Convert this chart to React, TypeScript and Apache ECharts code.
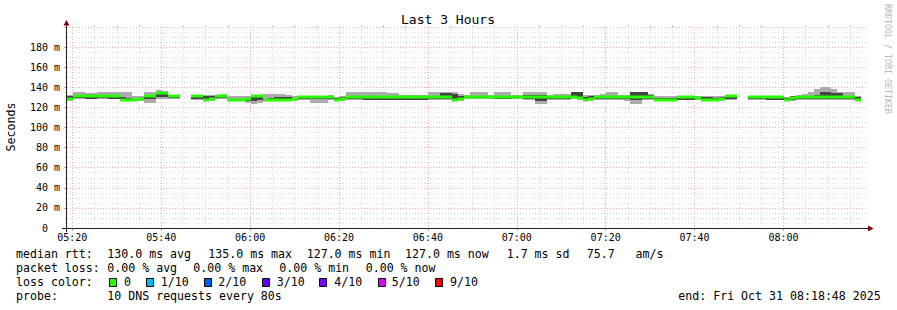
import React, { useEffect, useRef } from 'react';
import * as echarts from 'echarts';

// time axis in minutes after 05:00; window 05:18:48 .. 08:18:48, RRD step 80 s
const START_MIN = 18.8;
const END_MIN = 198.8;
const STEP_MIN = 80 / 60;

// median rtt (ms) per 80 s step, null = no data
const median: (number | null)[] = [
  128, 131, 131, 131, 131, 131, 131, 131, 131, 127,
  127, 127, 128, 131, 131, 134, 134, 131, 131, null,
  null, 131, 131, 127, 128, 131, 131, 127, 127, 127,
  128, 131, 131, 127, 127, 127, 127, 127, 128, 130,
  130, 130, 130, 130, 130, 127, 128, 130, 130, 130,
  130, 130, 130, 130, 130, 130, 130, 130, 130, 130,
  130, 130, 130, 130, 130, 127, 128, 130, 130, 130,
  130, 130, 130, 130, 130, 130, 130, 130, 130, 130,
  130, 130, 130, 130, 130, 130, 129, 127, 128, 130,
  130, 130, 130, 130, 130, 130, 130, 130, 130, 127,
  127, 127, 127, 130, 130, 130, 129, 127, 127, 127,
  128, 131, 131, null, null, 130, 130, 130, 130, 130,
  130, 127, 129, 130, 130, 130, 130, 130, 130, 130,
  130, 130, 130, 127, null,
];

// smoke: lowest ping, lower dense ping, upper dense ping, highest ping (ms)
const pingLo: (number | null)[] = [
  126, 128, 128, 128, 128, 128, 128, 128, 128, 126,
  126, 126, 126, 124, 124, 128, 128, 128, 128, null,
  null, 127, 127, 126, 126, 128, 128, 126, 126, 126,
  124, 123, 124, 126, 126, 126, 126, 126, 126, 127,
  127, 124, 124, 124, 127, 126, 126, 127, 127, 127,
  127, 127, 127, 127, 127, 127, 127, 127, 127, 127,
  127, 127, 127, 127, 127, 126, 126, 128, 128, 128,
  128, 128, 128, 128, 128, 128, 128, 127, 127, 123,
  123, 127, 127, 127, 127, 128, 127, 126, 126, 127,
  127, 127, 127, 127, 126, 123, 123, 127, 127, 126,
  126, 126, 126, 127, 127, 127, 127, 126, 126, 126,
  126, 127, 127, null, null, 127, 127, 127, 127, 127,
  127, 126, 126, 127, 127, 127, 127, 127, 127, 127,
  127, 127, 127, 126, null,
];
const pingQ1: (number | null)[] = [
  127, 129, 129, 128, 128, 129, 129, 128, 128, 127,
  127, 127, 127, 128, 128, 130, 130, 129, 129, null,
  null, 128, 128, 127, 127, 129, 129, 127, 127, 127,
  126, 126, 127, 127, 127, 127, 127, 127, 127, 128,
  128, 128, 128, 128, 128, 127, 127, 128, 128, 128,
  127, 127, 127, 127, 127, 127, 127, 127, 127, 127,
  127, 128, 128, 128, 128, 127, 127, 129, 129, 129,
  129, 129, 128, 128, 128, 129, 129, 128, 128, 126,
  126, 128, 128, 128, 128, 129, 128, 127, 127, 128,
  128, 128, 128, 128, 128, 127, 127, 128, 128, 127,
  127, 127, 127, 127, 127, 127, 128, 127, 127, 127,
  127, 128, 128, null, null, 128, 128, 128, 127, 127,
  127, 127, 127, 128, 128, 128, 128, 128, 128, 128,
  128, 128, 128, 127, null,
];
const pingQ3: (number | null)[] = [
  131, 132, 132, 132, 132, 131, 131, 131, 131, 130,
  129, 128, 129, 132, 132, 135, 135, 131, 131, null,
  null, 131, 131, 131, 131, 132, 132, 128, 128, 128,
  129, 131, 131, 128, 129, 130, 130, 130, 129, 130,
  130, 130, 130, 130, 130, 129, 130, 131, 131, 131,
  131, 131, 131, 131, 131, 131, 131, 131, 131, 131,
  131, 131, 131, 134, 134, 133, 131, 131, 131, 131,
  131, 131, 131, 131, 131, 131, 131, 132, 132, 132,
  132, 131, 131, 131, 131, 135, 135, 130, 131, 131,
  131, 131, 131, 131, 131, 135, 135, 135, 132, 129,
  129, 129, 129, 131, 131, 131, 130, 130, 130, 129,
  130, 132, 132, null, null, 131, 131, 131, 131, 131,
  131, 129, 131, 131, 131, 131, 132, 135, 135, 134,
  134, 131, 131, 130, null,
];
const pingHi: (number | null)[] = [
  132, 135, 135, 134, 134, 135, 135, 135, 135, 135,
  135, 131, 131, 135, 135, 137, 136, 132, 132, null,
  null, 132, 132, 132, 132, 132, 133, 131, 131, 131,
  131, 132, 132, 133, 133, 133, 133, 132, 131, 131,
  131, 131, 131, 131, 132, 130, 131, 135, 135, 135,
  135, 135, 135, 135, 134, 134, 132, 132, 132, 132,
  132, 135, 135, 135, 135, 135, 133, 132, 135, 135,
  135, 132, 135, 135, 135, 132, 132, 135, 135, 135,
  135, 132, 133, 133, 133, 135, 135, 132, 132, 132,
  133, 135, 135, 132, 132, 135, 135, 135, 133, 131,
  131, 131, 131, 131, 131, 131, 131, 131, 131, 131,
  131, 132, 132, null, null, 131, 131, 131, 131, 131,
  131, 130, 131, 132, 133, 135, 138, 140, 140, 138,
  135, 135, 135, 131, null,
];

const majorTicks = [20, 40, 60, 80, 100, 120, 140, 160, 180];
const majorLabels = ['05:20', '05:40', '06:00', '06:20', '06:40', '07:00', '07:20', '07:40', '08:00'];
const minorTicks = [
  25, 30, 35, 45, 50, 55, 65, 70, 75, 85, 90, 95, 105, 110, 115,
  125, 130, 135, 145, 150, 155, 165, 170, 175, 185, 190, 195,
];

const statsRtt = ['130.0 ms avg', '135.0 ms max', '127.0 ms min', '127.0 ms now', '1.7 ms sd', '75.7   am/s'];
const statsLoss = ['0.00 % avg', '0.00 % max', '0.00 % min', '0.00 % now'];
const lossLabels = ['0', '1/10', '2/10', '3/10', '4/10', '5/10', '9/10'];
const lossColors = ['#26ff00', '#00b8ff', '#0059ff', '#5e00ff', '#7e00ff', '#dd00ff', '#ff0000'];
const probeText = '10 DNS requests every 80s';
const endText = 'end: Fri Oct 31 08:18:48 2025';

const FONT = '"DejaVu Sans Mono", monospace';

export default function App() {
  const ref = useRef<HTMLDivElement>(null);
  useEffect(() => {
    if (!ref.current) return;
    const chart = echarts.init(ref.current, null, { renderer: 'svg' });

    const data: number[][] = [];
    median.forEach((m, i) => {
      if (m == null) return;
      const t0 = START_MIN + i * STEP_MIN;
      const t1 = START_MIN + (i + 1) * STEP_MIN;
      data.push([t0, t1, pingLo[i] as number, pingQ1[i] as number, pingQ3[i] as number, pingHi[i] as number, m]);
    });

    const legendFont = `11.6px ${FONT}`;
    const txt = (text: string, x: number, y: number, extra: any = {}) => ({
      type: 'text',
      x,
      y,
      z: 100,
      rotation: extra.rotation || 0,
      style: {
        text,
        x: 0,
        y: 0,
        font: extra.font || legendFont,
        fill: extra.fill || '#000',
        textAlign: extra.align || 'left',
        textVerticalAlign: 'middle',
      },
    });

    const rttX = [107.3, 208.3, 306.7, 405, 506.7, 586.7];
    const lossX = [107.3, 193.3, 279.3, 365.7];
    const boxX = [109.3, 145.7, 203.7, 261.7, 319.3, 377.7, 435];
    const boxLabelX = [124, 160.7, 218.3, 276.7, 334.3, 391.7, 450];

    const graphics: any[] = [
      txt('Last 3 Hours', 448, 19, { font: `13px ${FONT}`, align: 'center' }),
      txt('Seconds', 11, 127, { rotation: Math.PI / 2, align: 'center' }),
      txt('RRDTOOL / TOBI OETIKER', 888, 4, { rotation: -Math.PI / 2, font: `8.3px ${FONT}`, fill: '#b8b8b8' }),
      // axes
      { type: 'line', z: 100, shape: { x1: 62, y1: 228.5, x2: 868, y2: 228.5 }, style: { stroke: '#202020', lineWidth: 1 } },
      { type: 'line', z: 100, shape: { x1: 66.5, y1: 232, x2: 66.5, y2: 25 }, style: { stroke: '#202020', lineWidth: 1 } },
      { type: 'polygon', z: 101, shape: { points: [[868, 225.5], [873.5, 228.5], [868, 231.5]] }, style: { fill: '#7f0000' } },
      { type: 'polygon', z: 101, shape: { points: [[63.5, 25.5], [66.5, 20], [69.5, 25.5]] }, style: { fill: '#7f0000' } },
      // legend rows
      txt('median rtt:', 16, 254.3),
      ...statsRtt.map((s, i) => txt(s, rttX[i], 254.3)),
      txt('packet loss:', 16, 268.3),
      ...statsLoss.map((s, i) => txt(s, lossX[i], 268.3)),
      txt('loss color:', 16, 282.3),
      ...lossLabels.map((s, i) => txt(s, boxLabelX[i], 282.3)),
      ...lossColors.map((c, i) => ({
        type: 'rect',
        z: 100,
        shape: { x: Math.round(boxX[i]) + 0.5, y: 278.5, width: 7, height: 8 },
        style: { fill: c, stroke: '#000', lineWidth: 1 },
      })),
      txt('probe:', 16, 296.3),
      txt(probeText, 107.3, 296.3),
      txt(endText, 678.3, 296.3),
    ];

    const option: any = {
      animation: false,
      backgroundColor: '#ffffff',
      grid: { left: 67, right: 30, top: 27, bottom: 82 },
      xAxis: [
        {
          type: 'value',
          min: START_MIN,
          max: END_MIN,
          axisLine: { show: false },
          axisTick: { show: true, customValues: majorTicks, length: 3, lineStyle: { color: '#e09090' } },
          axisLabel: {
            customValues: majorTicks,
            formatter: (v: number) => {
              const k = majorTicks.indexOf(Math.round(v));
              return k >= 0 ? majorLabels[k] : '';
            },
            fontFamily: FONT,
            fontSize: 10,
            color: '#000000',
            margin: 4,
          },
          splitLine: { show: true, lineStyle: { color: '#f4a8a8', type: [1, 2], width: 1 } },
        },
        {
          type: 'value',
          min: START_MIN,
          max: END_MIN,
          axisLine: { show: false },
          axisTick: { show: true, customValues: minorTicks, length: 2, lineStyle: { color: '#c8c8c8' } },
          axisLabel: { show: false, customValues: minorTicks },
          splitLine: { show: true, lineStyle: { color: '#dadada', type: [1, 2], width: 1 } },
        },
      ],
      yAxis: [
        {
          type: 'value',
          min: 0,
          max: 200,
          interval: 20,
          axisLine: { show: false },
          axisTick: { show: true, length: 3, lineStyle: { color: '#b0b0b0' } },
          minorTick: { show: true, splitNumber: 4, length: 2, lineStyle: { color: '#c8c8c8' } },
          minorSplitLine: { show: true, lineStyle: { color: '#dadada', type: [1, 2], width: 1 } },
          splitLine: { show: true, lineStyle: { color: '#f4a8a8', type: [1, 2], width: 1 } },
          axisLabel: {
            formatter: (v: number) => (v === 0 ? '0\u00a0\u00a0' : v >= 200 ? '' : `${v} m`),
            fontFamily: FONT,
            fontSize: 10,
            color: '#000000',
            margin: 7,
          },
        },
      ],
      series: [
        {
          type: 'custom',
          xAxisIndex: 0,
          yAxisIndex: 0,
          encode: { x: [0, 1], y: [2, 3, 4, 5, 6] },
          data,
          renderItem: (_params: any, api: any) => {
            const t0 = api.value(0);
            const t1 = api.value(1);
            const lo = api.value(2);
            const q1 = api.value(3);
            const q3 = api.value(4);
            const hi = api.value(5);
            const md = api.value(6);
            const x0 = Math.round(api.coord([t0, lo])[0]);
            const x1 = Math.round(api.coord([t1, lo])[0]);
            const yLo = Math.round(api.coord([t0, lo])[1]);
            const yHi = Math.round(api.coord([t0, hi])[1]);
            const yQ1 = Math.round(api.coord([t0, q1])[1]);
            const yQ3 = Math.round(api.coord([t0, q3])[1]);
            const yMd = Math.round(api.coord([t0, md])[1]);
            return {
              type: 'group',
              children: [
                { type: 'rect', shape: { x: x0, y: yHi, width: x1 - x0, height: yLo - yHi }, style: { fill: '#ababab' } },
                { type: 'rect', shape: { x: x0, y: yQ3, width: x1 - x0, height: yQ1 - yQ3 }, style: { fill: '#444444' } },
                { type: 'rect', shape: { x: x0, y: yMd - 1.5, width: x1 - x0, height: 3 }, style: { fill: '#26ff00' } },
              ],
            };
          },
        },
      ],
      graphic: graphics,
    };

    chart.setOption(option);
    return () => chart.dispose();
  }, []);

  return <div ref={ref} style={{ position: 'fixed', left: 0, top: 0, width: 897, height: 310, background: '#fff' }} />;
}
